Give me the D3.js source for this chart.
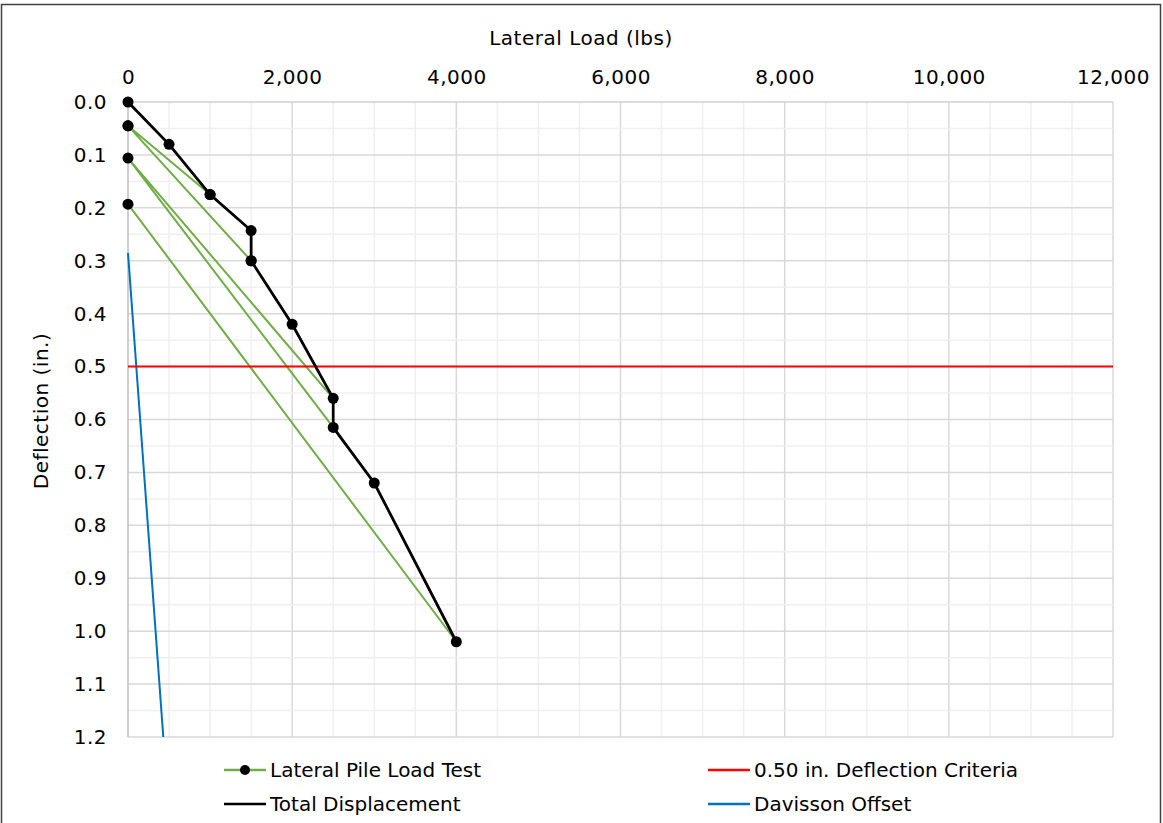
<!DOCTYPE html>
<html>
<head>
<meta charset="utf-8">
<script src="https://cdn.jsdelivr.net/npm/d3@7"></script>
<style>
  body { margin: 0; background: #fff; }
  text { font-family: "DejaVu Sans", sans-serif; fill: #000; }
</style>
</head>
<body>
<div id="chart"></div>
<script>
// load-unload cycles of the test (lbs, in.)
const testLoad = [0, 500, 1000, 0, 1000, 1500, 1500, 0, 1500, 2000, 2500, 0, 2500, 3000, 4000, 0];
const testDefl = [0, 0.08, 0.175, 0.045, 0.175, 0.243, 0.30, 0.045, 0.30, 0.42, 0.56, 0.106, 0.615, 0.72, 1.02, 0.193];

const totalLoad = [0, 500, 1000, 1500, 1500, 2000, 2500, 2500, 3000, 4000];
const totalDefl = [0, 0.08, 0.175, 0.243, 0.30, 0.42, 0.56, 0.615, 0.72, 1.02];

const criteriaLoad = [0, 12000];
const criteriaDefl = [0.5, 0.5];

const davLoad = [0, 430];
const davDefl = [0.285, 1.2];

const xTicks = [0, 2000, 4000, 6000, 8000, 10000, 12000];
const yTicks = [0, 0.1, 0.2, 0.3, 0.4, 0.5, 0.6, 0.7, 0.8, 0.9, 1.0, 1.1, 1.2];

const GREEN = "#70ad47", RED = "#ff0000", BLUE = "#0070c0";

let width = 1163, height = 823;
let svg = d3.select("#chart").append("svg").attr("width", width).attr("height", height);

// outer frame
svg.append("rect").attr("x", 1.5).attr("y", 4.5).attr("width", 1159).attr("height", 840)
  .attr("fill", "none").attr("stroke", "#404040").attr("stroke-width", 1.5);

let x = d3.scaleLinear().domain([0, 12000]).range([128, 1113]);
let y = d3.scaleLinear().domain([0, 1.2]).range([102, 737]);

// grid
let grid = svg.append("g");
grid.selectAll(".vmin").data(d3.range(500, 12001, 500)).join("line")
  .attr("x1", d => x(d)).attr("x2", d => x(d)).attr("y1", y(0)).attr("y2", y(1.2))
  .attr("stroke", d => d % 2000 == 0 ? "#d9d9d9" : "#f0f0f0").attr("stroke-width", 1.5);
grid.selectAll(".hmin").data(d3.range(1, 25)).join("line")
  .attr("x1", x(0)).attr("x2", x(12000)).attr("y1", d => y(d * 0.05)).attr("y2", d => y(d * 0.05))
  .attr("stroke", d => d % 2 == 0 ? "#d9d9d9" : "#f0f0f0").attr("stroke-width", 1.5);
grid.append("line").attr("x1", x(0)).attr("x2", x(12000)).attr("y1", y(0)).attr("y2", y(0))
  .attr("stroke", "#d0d0d0").attr("stroke-width", 1.5);
grid.append("line").attr("x1", x(0)).attr("x2", x(0)).attr("y1", y(0)).attr("y2", y(1.2))
  .attr("stroke", "#bfbfbf").attr("stroke-width", 1.5);

// axes (labels only)
let xAxis = d3.axisTop(x).tickValues(xTicks).tickSize(0).tickPadding(0).tickFormat(d3.format(","));
svg.append("g").attr("transform", "translate(0,84)").call(xAxis)
  .call(g => g.select(".domain").remove())
  .selectAll("text").attr("font-size", 20).attr("letter-spacing", 0.5)
  .attr("font-family", "DejaVu Sans").attr("fill", "#000");

let yAxis = d3.axisLeft(y).tickValues(yTicks).tickSize(0).tickPadding(0).tickFormat(d3.format(".1f"));
svg.append("g").attr("transform", "translate(107,0)").call(yAxis)
  .call(g => g.select(".domain").remove())
  .selectAll("text").attr("font-size", 20).attr("letter-spacing", 0.5)
  .attr("font-family", "DejaVu Sans").attr("fill", "#000");

svg.append("text").attr("x", 581).attr("y", 45).attr("text-anchor", "middle")
  .attr("font-size", 20).attr("letter-spacing", 0.5).text("Lateral Load (lbs)");
svg.append("text").attr("transform", "translate(48,411) rotate(-90)").attr("text-anchor", "middle")
  .attr("font-size", 20).attr("letter-spacing", 0.5).text("Deflection (in.)");

// series
let line = d3.line().x(d => x(d[0])).y(d => y(d[1]));
let zip = (a, b) => a.map((v, i) => [v, b[i]]);

let plot = svg.append("g");
plot.append("path").attr("d", line(zip(davLoad, davDefl))).attr("fill", "none").attr("stroke", BLUE).attr("stroke-width", 2);
plot.append("path").attr("d", line(zip(testLoad, testDefl))).attr("fill", "none").attr("stroke", GREEN).attr("stroke-width", 2);
plot.append("path").attr("d", line(zip(criteriaLoad, criteriaDefl))).attr("fill", "none").attr("stroke", RED).attr("stroke-width", 2);
plot.append("path").attr("d", line(zip(totalLoad, totalDefl))).attr("fill", "none").attr("stroke", "#000").attr("stroke-width", 2.75);
plot.selectAll("circle").data(zip(testLoad, testDefl)).join("circle")
  .attr("cx", d => x(d[0])).attr("cy", d => y(d[1])).attr("r", 5.5).attr("fill", "#000");

// legend
let legend = [
  { name: "Lateral Pile Load Test", color: GREEN, dot: true, lx: 224, ly: 770 },
  { name: "0.50 in. Deflection Criteria", color: RED, dot: false, lx: 708, ly: 770 },
  { name: "Total Displacement", color: "#000", dot: false, lx: 224, ly: 804 },
  { name: "Davisson Offset", color: BLUE, dot: false, lx: 708, ly: 804 }
];
let lg = svg.append("g").selectAll("g").data(legend).join("g")
  .attr("transform", d => "translate(" + d.lx + "," + d.ly + ")");
lg.append("line").attr("x1", 0).attr("x2", 42).attr("stroke", d => d.color).attr("stroke-width", 2.5);
lg.filter(d => d.dot).append("circle").attr("cx", 21).attr("r", 5).attr("fill", "#000");
lg.append("text").attr("x", 46).attr("dy", "0.35em").attr("font-size", 20).text(d => d.name);
</script>
</body>
</html>
